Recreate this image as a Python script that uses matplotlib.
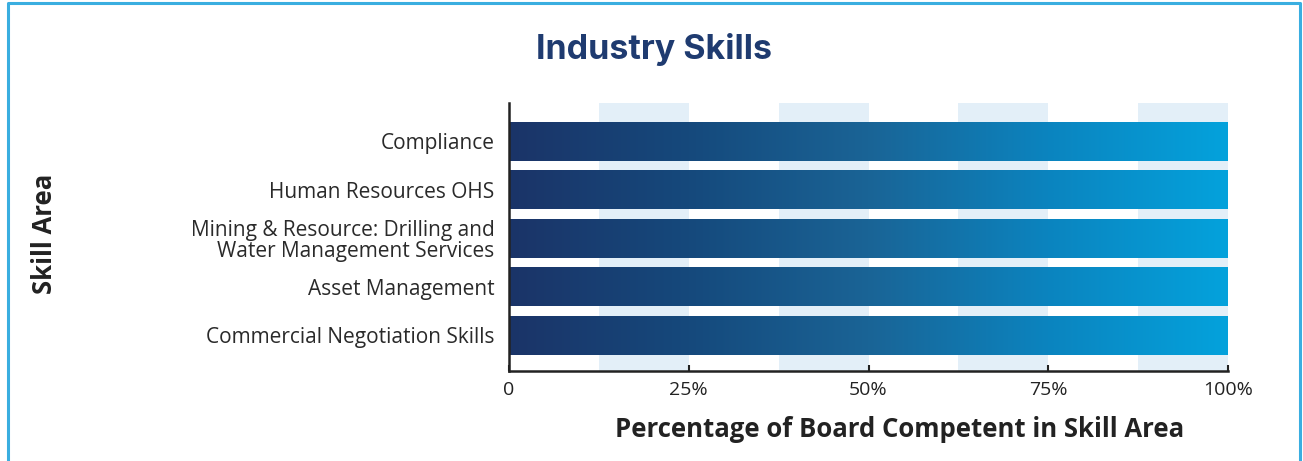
import numpy as np
import matplotlib.pyplot as plt
from matplotlib.colors import LinearSegmentedColormap

skills = [
    "Compliance",
    "Human Resources OHS",
    "Mining & Resource: Drilling and\nWater Management Services",
    "Asset Management",
    "Commercial Negotiation Skills",
]
competent_pct = [100, 100, 100, 100, 100]
x_ticks = [0, 25, 50, 75, 100]
x_tick_labels = ["0", "25%", "50%", "75%", "100%"]

navy = "#1f3b70"
grad = LinearSegmentedColormap.from_list("bar", ["#1b3468", "#15497c", "#1a6496", "#0b84bf", "#04a2dc"])

fig = plt.figure(figsize=(13.03, 4.61), dpi=100)
ax = fig.add_axes([509 / 1303, 1 - 371 / 461, (1228 - 509) / 1303, (371 - 103) / 461])

# frame around the whole card (open at the bottom)
fig.add_artist(plt.Line2D([7.5 / 1303, 7.5 / 1303, 1299.5 / 1303, 1299.5 / 1303],
                          [0, 1 - 3.5 / 461, 1 - 3.5 / 461, 0],
                          transform=fig.transFigure, color="#3aaee0", lw=2.2))

y = np.arange(len(skills))

# light bands behind every other half-step
for t in x_ticks[1:]:
    ax.axvspan(t - 12.5, t, color="#e3eff8", zorder=0, lw=0)

# bars drawn normally, then filled with a left-to-right gradient clipped to each bar
bars = ax.barh(y, competent_pct, height=0.8, color="none", zorder=2)
g = np.linspace(0, 1, 256).reshape(1, -1)
for b in bars:
    x0, y0 = b.get_x(), b.get_y()
    w, h = b.get_width(), b.get_height()
    im = ax.imshow(g, cmap=grad, aspect="auto", extent=(x0, x0 + w, y0 + h, y0),
                   zorder=2, interpolation="bicubic")
    im.set_clip_path(b)
ax.set_xlim(0, 100)
ax.set_ylim(len(skills) - 1 + 0.74, -0.79)

ax.set_yticks(y)
ax.set_yticklabels(skills, fontsize=15, family="Open Sans", color="#2a2a2a", linespacing=1.02)
ax.tick_params(axis="y", length=0, pad=10.5)
ax.set_xticks(x_ticks)
ax.set_xticklabels(x_tick_labels, fontsize=14, family="Open Sans", color="#222222")
ax.tick_params(axis="x", direction="in", length=4, width=1.5, color="#222222", pad=7)

for s in ["top", "right"]:
    ax.spines[s].set_visible(False)
for s in ["left", "bottom"]:
    ax.spines[s].set_linewidth(1.8)
    ax.spines[s].set_color("#222222")

fig.text(654 / 1303, 1 - 49 / 461, "Industry Skills", ha="center", va="center",
         fontsize=24.5, fontweight="bold", family="Inter", color=navy)
fig.text(900 / 1303, 1 - 429 / 461, "Percentage of Board Competent in Skill Area",
         ha="center", va="center", fontsize=18.5, fontweight="bold", family="Open Sans", color="#222222")
fig.text(44 / 1303, 1 - 234 / 461, "Skill Area", ha="center", va="center", rotation=90,
         fontsize=18.5, fontweight="bold", family="Open Sans", color="#222222")

fig.savefig("out.png", dpi=100)
